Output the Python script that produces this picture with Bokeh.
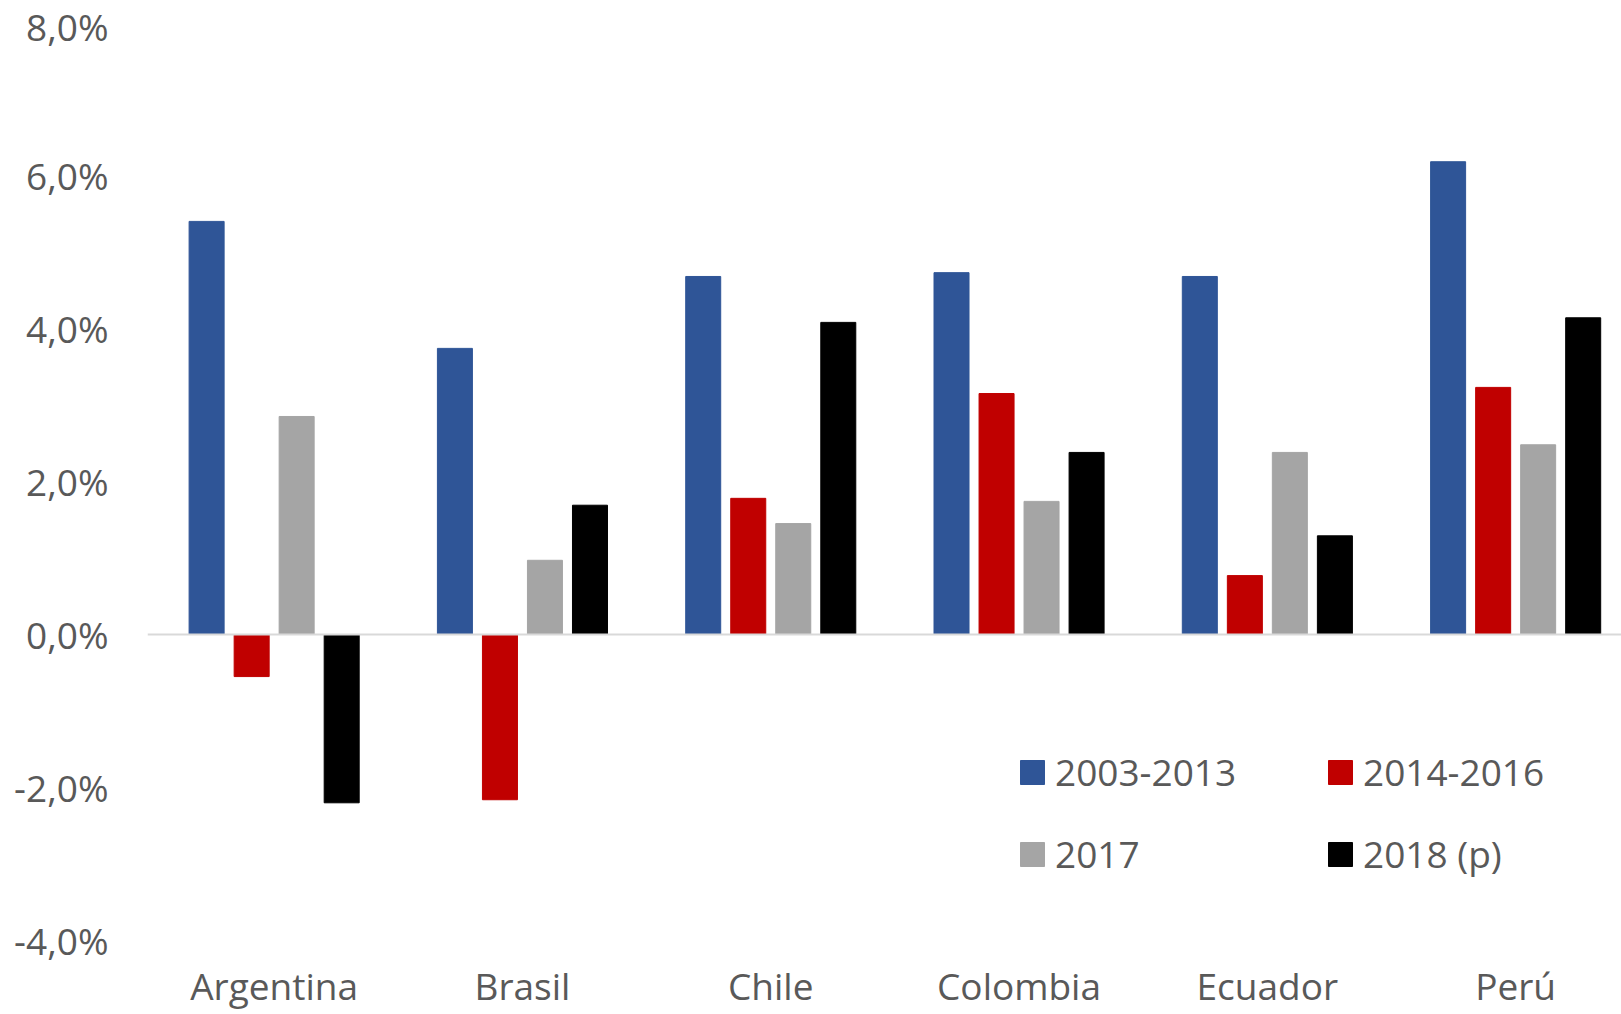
from bokeh.plotting import figure
from bokeh.models import ColumnDataSource, Range1d, FixedTicker, Span, Legend, LegendItem
from bokeh.transform import dodge
from bokeh.embed import file_html
from bokeh.resources import INLINE

countries = ["Argentina", "Brasil", "Chile", "Colombia", "Ecuador", "Perú"]
series_names = ["2003-2013", "2014-2016", "2017", "2018 (p)"]
s2003_2013 = [5.40, 3.74, 4.68, 4.73, 4.68, 6.18]
s2014_2016 = [-0.55, -2.16, 1.78, 3.15, 0.77, 3.23]
s2017 = [2.85, 0.97, 1.45, 1.74, 2.38, 2.48]
s2018p = [-2.20, 1.69, 4.08, 2.38, 1.29, 4.14]
y_ticks = [-4, -2, 0, 2, 4, 6, 8]

colors = ["#2F5597", "#C00000", "#A5A5A5", "#000000"]
FONT = "Open Sans"
TXT = "#595959"

xi = [i + 0.5 for i in range(len(countries))]
src = ColumnDataSource(dict(xi=xi, a=s2003_2013, b=s2014_2016, c=s2017, d=s2018p))

W, H = 1621, 1014
left, bottom = 147, 59
px_per_cat = 248.3
px_per_unit = 76.5
zero_y = 634
frame_h = H - bottom
x0 = -(149.5 - left) / px_per_cat

p = figure(width=W, height=H, output_backend="svg", toolbar_location=None,
           x_range=Range1d(x0, x0 + (W - left) / px_per_cat),
           y_range=Range1d(-(frame_h - zero_y) / px_per_unit, zero_y / px_per_unit),
           min_border_left=left, min_border_right=0, min_border_top=0,
           min_border_bottom=bottom)
p.outline_line_color = None
p.background_fill_color = "white"
p.border_fill_color = "white"
p.xgrid.visible = False
p.ygrid.visible = False

p.add_layout(Span(location=0, dimension="width", line_color="#D9D9D9", line_width=2))

offsets = [-0.272, -0.0906, 0.0906, 0.272]
cols = ["a", "b", "c", "d"]
renderers = []
for col, off, colr in zip(cols, offsets, colors):
    r = p.vbar(x=dodge("xi", off, range=p.x_range), top=col, bottom=0, width=0.141,
               source=src, fill_color=colr, line_color=colr, line_width=1)
    renderers.append(r)

p.xaxis.ticker = FixedTicker(ticks=xi)
p.xaxis.major_label_overrides = {x: c for x, c in zip(xi, countries)}
p.xaxis.axis_line_color = None
p.xaxis.major_tick_line_color = None
p.xaxis.minor_tick_line_color = None
p.xaxis.major_tick_out = 0
p.xaxis.major_tick_in = 0
p.xaxis.major_label_text_font = FONT
p.xaxis.major_label_text_font_size = "37px"
p.xaxis.major_label_text_color = TXT
p.xaxis.major_label_standoff = 4

p.yaxis.ticker = FixedTicker(ticks=y_ticks)
p.yaxis.major_label_overrides = {v: (f"{v:.1f}%").replace(".", ",") for v in y_ticks}
p.yaxis.axis_line_color = None
p.yaxis.major_tick_line_color = None
p.yaxis.minor_tick_line_color = None
p.yaxis.major_tick_out = 0
p.yaxis.major_tick_in = 0
p.yaxis.major_label_text_font = FONT
p.yaxis.major_label_text_font_size = "37px"
p.yaxis.major_label_text_color = TXT
p.yaxis.major_label_standoff = 39

items = [LegendItem(label=n, renderers=[r]) for n, r in zip(series_names, renderers)]
legend = Legend(items=items, orientation="horizontal", ncols=2,
                location=(1017 - left, frame_h - 879),
                glyph_width=30, glyph_height=30, label_standoff=8,
                label_width=239,
                label_text_font=FONT, label_text_font_size="37px",
                label_text_color=TXT, spacing=31, padding=0, margin=0,
                border_line_color=None, background_fill_alpha=0)
p.add_layout(legend)

open("out.html", "w").write(file_html(p, INLINE))
